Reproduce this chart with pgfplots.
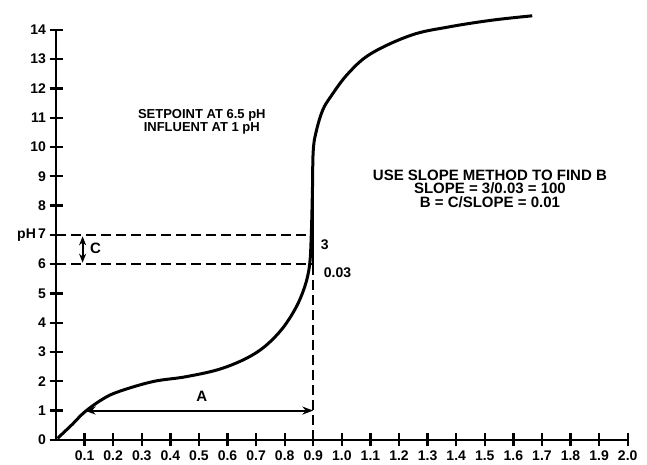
\documentclass[border=0pt]{standalone}
\usepackage{fontspec}
\setmainfont{Liberation Sans}
\usepackage{pgfplots}
\pgfplotsset{compat=1.18}
\usetikzlibrary{arrows.meta}

\begin{document}
\begin{tikzpicture}
\begin{axis}[
    scale only axis,
    width=571.7pt, height=410pt,
    xmin=0, xmax=2, ymin=0, ymax=14,
    axis lines=left,
    axis line style={-, line width=2.6pt},
    clip=false,
    xtick={0.1,0.2,0.3,0.4,0.5,0.6,0.7,0.8,0.9,1.0,1.1,1.2,1.3,1.4,1.5,1.6,1.7,1.8,1.9,2.0},
    xticklabels={0.1,0.2,0.3,0.4,0.5,0.6,0.7,0.8,0.9,1.0,1.1,1.2,1.3,1.4,1.5,1.6,1.7,1.8,1.9,2.0},
    ytick={0,1,2,3,4,5,6,7,8,9,10,11,12,13,14},
    yticklabels={0,1,2,3,4,5,6,pH\,7,8,9,10,11,12,13,14},
    tick align=center,
    major tick length=13pt,
    every tick/.style={line width=2.4pt, black},
    ticklabel style={font=\fontsize{14}{14}\selectfont\bfseries},
    xticklabel style={yshift=-1pt},
]
% titration curve
\addplot[line width=3pt, smooth, tension=0.6] coordinates {
    (0.005,0.05) (0.057,0.53) (0.1,0.95) (0.163,1.39) (0.22,1.65)
    (0.339,1.99) (0.457,2.16) (0.584,2.45) (0.698,2.96) (0.778,3.64)
    (0.835,4.44) (0.87,5.23) (0.887,5.97) (0.893,7.0) (0.897,8.5)
    (0.9,9.9) (0.912,10.6) (0.933,11.26) (0.961,11.72) (1.021,12.5)
    (1.102,13.19) (1.243,13.82) (1.374,14.1) (1.525,14.33) (1.666,14.48)
};
% construction lines
\addplot[line width=2pt, dash pattern=on 10pt off 5pt] coordinates {(0,7) (0.893,7)};
\addplot[line width=2pt, dash pattern=on 10pt off 5pt] coordinates {(0,6) (0.887,6)};
\addplot[line width=2pt, dash pattern=on 10pt off 5pt] coordinates {(0.9,0) (0.9,6)};
\addplot[line width=2pt] coordinates {(0.887,6) (0.9,6) (0.9,9.9)};
\addplot[line width=2pt, {Stealth[length=11pt,width=8pt]}-{Stealth[length=11pt,width=8pt]}]
    coordinates {(0.1,1) (0.9,1)};
\addplot[line width=2pt, {Stealth[length=9pt,width=7pt]}-{Stealth[length=9pt,width=7pt]}]
    coordinates {(0.093,6.05) (0.093,6.95)};

\node[font=\fontsize{15}{15}\selectfont\bfseries] at (axis cs:0.51,1.48) {A};
\node[font=\fontsize{15}{15}\selectfont\bfseries] at (axis cs:0.138,6.55) {C};
\node[font=\fontsize{14}{14}\selectfont\bfseries] at (axis cs:0.94,6.65) {3};
\node[font=\fontsize{14}{14}\selectfont\bfseries] at (axis cs:0.985,5.7) {0.03};
\node[font=\fontsize{13}{11}\selectfont\bfseries, align=center] at (axis cs:0.51,10.85)
    {SETPOINT AT 6.5 pH\\INFLUENT AT 1 pH};
\node[font=\fontsize{15}{13.5}\selectfont\bfseries, align=center] at (axis cs:1.518,8.57)
    {USE SLOPE METHOD TO FIND B\\SLOPE = 3/0.03 = 100\\B = C/SLOPE = 0.01};

\coordinate (bl) at (axis cs:-0.196,-0.854);
\coordinate (tr) at (axis cs:2.0675,15.02);
\end{axis}
\pgfresetboundingbox
\path[use as bounding box] (bl) rectangle (tr);
\end{tikzpicture}
\end{document}
